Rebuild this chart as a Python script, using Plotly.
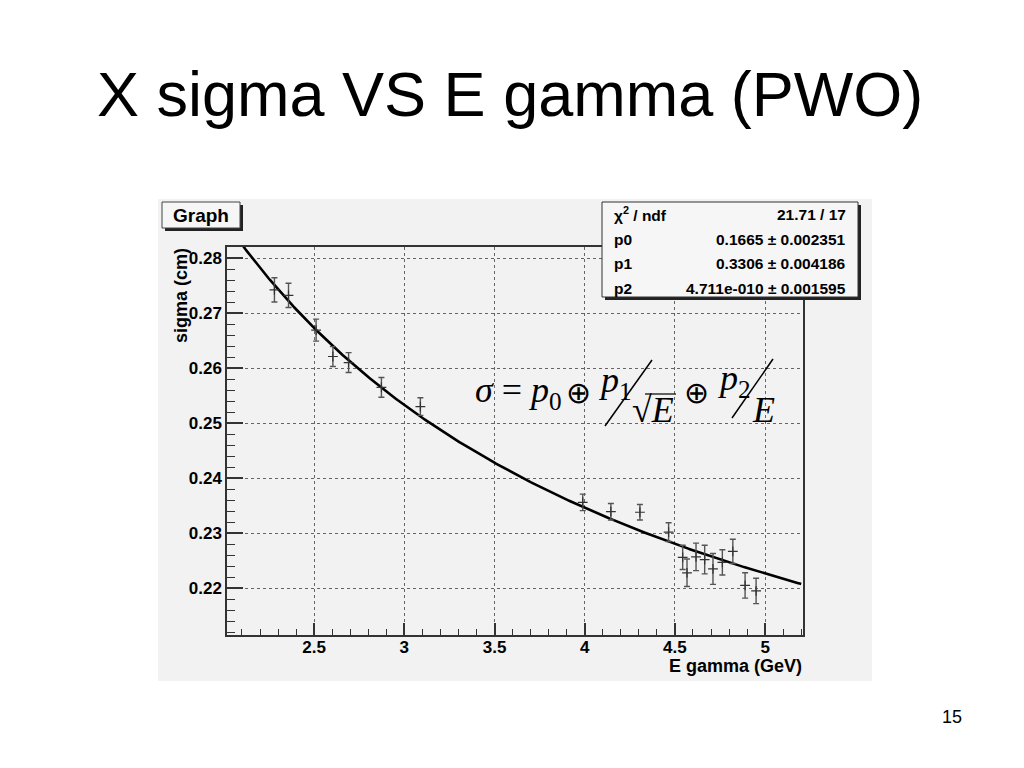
import numpy as np
import plotly.graph_objects as go

# ---- data ----
energy = [2.28, 2.358, 2.511, 2.604, 2.691, 2.873, 3.089, 3.989, 4.145, 4.306,
          4.465, 4.543, 4.567, 4.617, 4.665, 4.711, 4.763, 4.821, 4.889, 4.950]
sigma = [0.2742, 0.2732, 0.2669, 0.2621, 0.2610, 0.2565, 0.2530, 0.2356, 0.2339, 0.2338,
         0.2302, 0.2256, 0.2228, 0.2257, 0.2252, 0.2235, 0.2247, 0.2267, 0.2205, 0.2195]
sigma_err = [0.0022, 0.0022, 0.0020, 0.0018, 0.0018, 0.0018, 0.0016, 0.0015, 0.0015, 0.0014,
             0.0017, 0.0022, 0.0025, 0.0025, 0.0026, 0.0028, 0.0023, 0.0022, 0.0023, 0.0023]

fit_names = ["p0", "p1", "p2"]
fit_values = [0.1665, 0.3306, 4.711e-10]
fit_errors = [0.002351, 0.004186, 0.001595]
fit_labels = ["0.1665", "0.3306", "4.711e-010"]
fit_err_labels = ["0.002351", "0.004186", "0.001595"]
chi2_label = "21.71 / 17"
fit_range = [2.0, 5.2]

x_ticks = [2.5, 3, 3.5, 4, 4.5, 5]
y_ticks = [0.22, 0.23, 0.24, 0.25, 0.26, 0.27, 0.28]

# fit function drawn from the fitted parameters
p0, p1, p2 = fit_values
e_curve = np.linspace(fit_range[0], fit_range[1], 400)
s_curve = np.sqrt(p0 ** 2 + p1 ** 2 / e_curve + p2 ** 2 / e_curve ** 2)

# ---- layout geometry (page pixels; the page body adds an 8 px offset) ----
OFF = 8
L, R, T, B = 227, 803, 247, 635
W, H = 1024 - OFF, 768 - OFF


def px(x):
    return (x - L) / (R - L)


def py(y):
    return (B - y) / (B - T)


SANS = "Liberation Sans"
SERIF = "Liberation Serif"
BG = "#f2f2f2"

fig = go.Figure()

fig.add_trace(go.Scatter(
    x=e_curve, y=s_curve, mode="lines",
    line=dict(color="black", width=2.6), hoverinfo="skip", showlegend=False))

fig.add_trace(go.Scatter(
    x=energy, y=sigma, mode="markers",
    marker=dict(symbol="cross-thin", size=7, line=dict(color="#333333", width=1.2), color="#333333"),
    error_y=dict(type="data", array=sigma_err, visible=True, color="#555555", thickness=1.4, width=3),
    showlegend=False))

shapes = []
annotations = []

# canvas background
shapes.append(dict(type="rect", xref="paper", yref="paper", x0=px(158), x1=px(872), y0=py(199), y1=py(681),
                   fillcolor=BG, line=dict(width=0), layer="below"))

# "Graph" title box with shadow
shapes.append(dict(type="rect", xref="paper", yref="paper", x0=px(165), x1=px(243), y0=py(205), y1=py(231),
                   fillcolor="#222222", line=dict(width=0), layer="above"))
shapes.append(dict(type="rect", xref="paper", yref="paper", x0=px(162), x1=px(240), y0=py(202), y1=py(228),
                   fillcolor="#f6f6f6", line=dict(color="#444444", width=1), layer="above"))
annotations.append(dict(xref="paper", yref="paper", x=px(201), y=py(215.5), text="Graph", showarrow=False,
                        xanchor="center", yanchor="middle",
                        font=dict(family=SANS, size=19, color="black", weight="bold")))

# stats box with shadow
shapes.append(dict(type="rect", xref="paper", yref="paper", x0=px(605), x1=px(861), y0=py(205), y1=py(300),
                   fillcolor="#222222", line=dict(width=0), layer="above"))
shapes.append(dict(type="rect", xref="paper", yref="paper", x0=px(602), x1=px(858), y0=py(202), y1=py(297),
                   fillcolor="#f6f6f6", line=dict(color="#333333", width=1), layer="above"))
row_y = [214, 239, 264, 288]
left_txt = ["χ<sup>2</sup> / ndf"] + fit_names
right_txt = [chi2_label] + [f"{v} ± {e}" for v, e in zip(fit_labels, fit_err_labels)]
for yy, lt, rt in zip(row_y, left_txt, right_txt):
    annotations.append(dict(xref="paper", yref="paper", x=px(612), y=py(yy), text=lt, showarrow=False,
                            xanchor="left", yanchor="middle",
                            font=dict(family=SANS, size=15.5, color="black", weight="bold")))
    annotations.append(dict(xref="paper", yref="paper", x=px(848), y=py(yy), text=rt, showarrow=False,
                            xanchor="right", yanchor="middle",
                            font=dict(family=SANS, size=15.5, color="black", weight="bold")))

# formula
ffont = dict(family=SERIF, size=36, color="black")
ofont = dict(family=SERIF, size=30, color="black")
annotations.append(dict(xref="paper", yref="paper", x=px(473), y=py(392), showarrow=False,
                        text="<i>σ</i> = <i>p</i><sub>0</sub>", xanchor="left", yanchor="middle", font=ffont))
annotations.append(dict(xref="paper", yref="paper", x=px(578), y=py(392), showarrow=False,
                        text="⊕", xanchor="center", yanchor="middle", font=ofont))
annotations.append(dict(xref="paper", yref="paper", x=px(596), y=py(382), showarrow=False,
                        text="<i>p</i><sub>1</sub>", xanchor="left", yanchor="middle", font=ffont))
annotations.append(dict(xref="paper", yref="paper", x=px(630), y=py(410), showarrow=False,
                        text="√<i>E</i>", xanchor="left", yanchor="middle", font=ffont))
annotations.append(dict(xref="paper", yref="paper", x=px(696), y=py(392), showarrow=False,
                        text="⊕", xanchor="center", yanchor="middle", font=ofont))
annotations.append(dict(xref="paper", yref="paper", x=px(715), y=py(380), showarrow=False,
                        text="<i>p</i><sub>2</sub>", xanchor="left", yanchor="middle", font=ffont))
annotations.append(dict(xref="paper", yref="paper", x=px(750), y=py(410), showarrow=False,
                        text="<i>E</i>", xanchor="left", yanchor="middle", font=ffont))
shapes.append(dict(type="line", xref="paper", yref="paper", x0=px(605), y0=py(426), x1=px(652), y1=py(360),
                   line=dict(color="black", width=1.5), layer="above"))
shapes.append(dict(type="line", xref="paper", yref="paper", x0=px(732), y0=py(418), x1=px(773), y1=py(359),
                   line=dict(color="black", width=1.5), layer="above"))
shapes.append(dict(type="line", xref="paper", yref="paper", x0=px(645), y0=py(394), x1=px(676), y1=py(394),
                   line=dict(color="black", width=1.2), layer="above"))

# axis titles
annotations.append(dict(xref="paper", yref="paper", x=px(181), y=py(296), text="sigma (cm)", showarrow=False,
                        textangle=-90, xanchor="center", yanchor="middle",
                        font=dict(family=SANS, size=18, color="black", weight="bold")))
annotations.append(dict(xref="paper", yref="paper", x=px(804), y=py(666), text="E gamma (GeV)", showarrow=False,
                        xanchor="right", yanchor="middle",
                        font=dict(family=SANS, size=18, color="black", weight="bold")))

# slide title and page number
annotations.append(dict(xref="paper", yref="paper", x=px(510), y=py(94), text="X sigma VS E gamma (PWO)",
                        showarrow=False, xanchor="center", yanchor="middle",
                        font=dict(family=SANS, size=63, color="black")))
annotations.append(dict(xref="paper", yref="paper", x=px(952), y=py(717), text="15",
                        showarrow=False, xanchor="center", yanchor="middle",
                        font=dict(family=SANS, size=18, color="black")))

axis_common = dict(showline=True, linecolor="#333333", linewidth=1.5, mirror=True,
                   ticks="inside", tickcolor="#333333", tickwidth=1.5,
                   showgrid=True, gridcolor="#666666", griddash="dot", gridwidth=1,
                   zeroline=False,
                   tickfont=dict(family=SANS, size=17, color="black", weight="bold"))

fig.update_xaxes(range=[2.017, 5.21], tickvals=x_ticks, ticktext=[f"{v:g}" for v in x_ticks], ticklen=12,
                 ticklabelstandoff=-4,
                 minor=dict(dtick=0.1, tick0=0, ticks="inside", ticklen=6, tickcolor="#333333", tickwidth=1.2,
                            showgrid=False),
                 **axis_common)
fig.update_yaxes(range=[0.2115, 0.282], tickvals=y_ticks, ticktext=[f"{v:.2f}" for v in y_ticks], ticklen=16,
                 minor=dict(dtick=0.002, tick0=0, ticks="inside", ticklen=8, tickcolor="#333333", tickwidth=1.2,
                            showgrid=False),
                 **axis_common)

fig.update_layout(width=W, height=H, autosize=False,
                  margin=dict(l=L - OFF, r=W - (R - OFF), t=T - OFF, b=H - (B - OFF), pad=0),
                  paper_bgcolor="white", plot_bgcolor=BG,
                  shapes=shapes, annotations=annotations, showlegend=False)

fig.write_html("out.html")
